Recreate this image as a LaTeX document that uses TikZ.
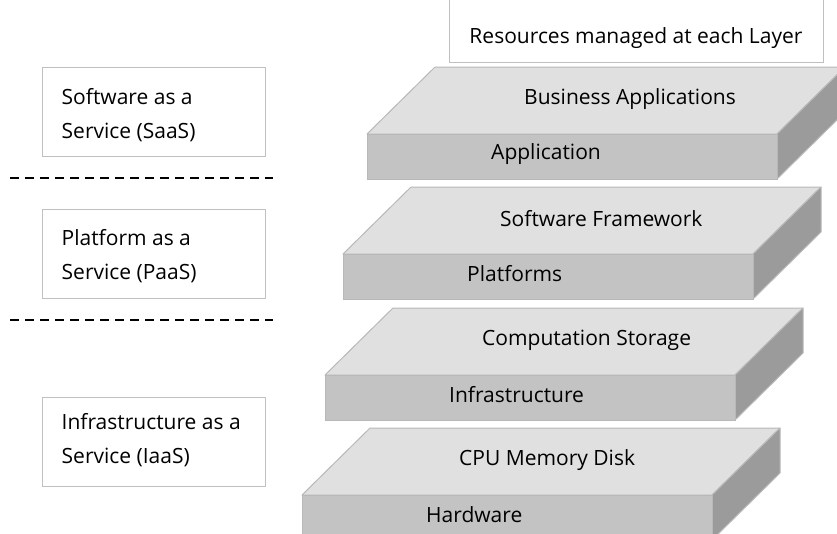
\documentclass[tikz,border=0pt]{standalone}
\usepackage{fontspec}
\setmainfont{Open Sans}
\usepackage{tikz}
\usetikzlibrary{positioning}

\definecolor{slabtop}{HTML}{E0E0E0}
\definecolor{slabfront}{HTML}{C3C3C3}
\definecolor{slabside}{HTML}{9B9B9B}
\definecolor{slabedge}{HTML}{B8B8B8}
\definecolor{boxedge}{HTML}{C0C0C0}

\tikzset{
  facetop/.style={fill=slabtop, draw=slabedge, line width=1pt, line join=round},
  facefront/.style={fill=slabfront, draw=slabedge, line width=1pt},
  faceside/.style={fill=slabside, draw=slabedge, line width=1pt, line join=round},
  slablabel/.style={anchor=west, inner sep=0pt, font=\fontsize{21}{24}\selectfont},
  servicebox/.style={draw=boxedge, line width=1pt, minimum width=223pt, minimum height=89pt, inner sep=0pt},
  servicetext/.style={anchor=west, inner sep=0pt, align=left, font=\fontsize{21}{34}\selectfont},
  separator/.style={dash pattern=on 9pt off 6pt, line width=1.2pt},
}

\begin{document}
\begin{tikzpicture}[x=1pt, y=-1pt]
      \useasboundingbox (0,0) rectangle (837,533);
      \clip (0,0) rectangle (837,533);
      % heading of the right column
      \draw[draw=boxedge, line width=1pt] (449,-5) rectangle (823,62);
      \node[font=\fontsize{21}{24}\selectfont, inner sep=0pt] (resources) at (636,38) {Resources managed at each Layer};
      % the four layers, front-left corner of the top face, then labels
      \foreach \sx/\sy/\toptext/\fronttext/\nm in {367/134/Business Applications/Application/app,
          343/254/Software Framework/Platforms/plat,
          325/375/Computation Storage/Infrastructure/infra,
          302/495/CPU Memory Disk/Hardware/hw}{
        \draw[facetop] (\sx,\sy) -- ++(410,0) -- ++(68,-67) -- ++(-410,0) -- cycle;
        \draw[faceside] (\sx+410,\sy) -- ++(68,-67) -- ++(0,45) -- ++(-68,67) -- cycle;
        \draw[facefront] (\sx,\sy) rectangle ++(410,45);
        \node[slablabel] (\nm-top) at (\sx+157,\sy-35) {\toptext};
        \node[slablabel] (\nm-front) at (\sx+124,\sy+20) {\fronttext};
      }
      % service models on the left
      \node[servicebox] (saas) at (153.5,112) {};
      \node[servicebox] (paas) at (153.5,253.5) {};
      \node[servicebox] (iaas) at (153.5,441.5) {};
      \node[servicetext, right=20pt of saas.west, yshift=-3pt] (saas-text) {Software as a\\Service (SaaS)};
      \node[servicetext, right=20pt of paas.west, yshift=-3pt] (paas-text) {Platform as a\\Service (PaaS)};
      \node[servicetext, right=20pt of iaas.west, yshift=1pt] (iaas-text) {Infrastructure as a\\Service (IaaS)};
      \draw[separator] (10,178) -- (273,178);
      \draw[separator] (10,320) -- (273,320);
    \end{tikzpicture}
\end{document}
